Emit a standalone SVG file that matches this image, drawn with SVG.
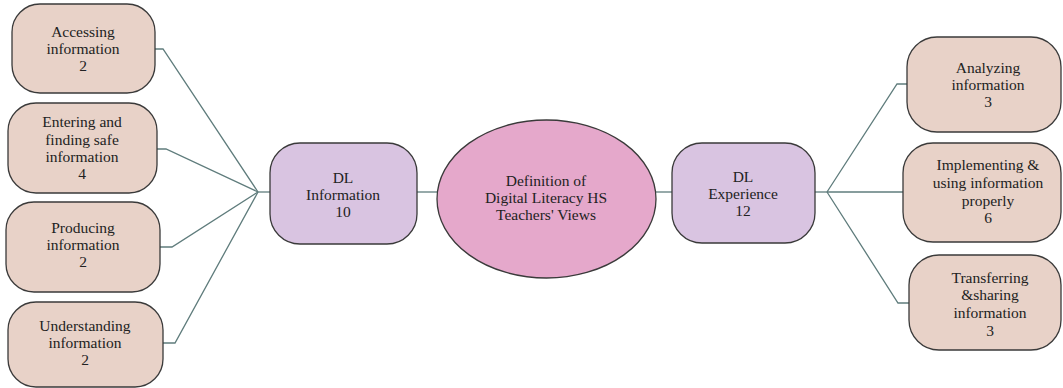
<svg xmlns="http://www.w3.org/2000/svg" width="1063" height="388" viewBox="0 0 1063 388">
<style>
.leaf{fill:#E8D2C8;stroke:#3a3a3a;stroke-width:1.3}
.mid{fill:#D9C4E1;stroke:#3a3a3a;stroke-width:1.3}
.core{fill:#E5A8CB;stroke:#3a3a3a;stroke-width:1.3}
.conn{fill:none;stroke:#5f7c7c;stroke-width:1.3}
.t{font-family:'Liberation Serif','DejaVu Serif',serif;font-size:15.5px;fill:#222;text-anchor:middle}
</style>
<rect width="1063" height="388" fill="#ffffff"/>
<g id="connectors">
<polyline class="conn" points="155,49 163,49 258,192"/>
<polyline class="conn" points="157,149 166,149 258,192"/>
<polyline class="conn" points="160,247 172,247 258,192"/>
<polyline class="conn" points="163,343 175,343 258,192"/>
<polyline class="conn" points="258,192 270,192"/>
<polyline class="conn" points="417,192 437,192"/>
<polyline class="conn" points="656,192 672,192"/>
<polyline class="conn" points="815,192 827,192"/>
<polyline class="conn" points="827,192 897,84 907,84"/>
<polyline class="conn" points="827,192 903,192"/>
<polyline class="conn" points="827,192 898,303 909,303"/>
</g>
<g class="t" font-family="Liberation Serif, serif">
<g id="accessing">
<rect class="leaf" x="12" y="4" width="143" height="89" rx="28" ry="28"/>
<text x="83" y="37">Accessing</text><text x="83" y="54">information</text><text x="83" y="71">2</text>
</g>
<g id="entering">
<rect class="leaf" x="8" y="103" width="149" height="90" rx="28" ry="28"/>
<text x="82" y="127">Entering and</text><text x="82" y="145">finding safe</text><text x="82" y="162">information</text><text x="82" y="179">4</text>
</g>
<g id="producing">
<rect class="leaf" x="6" y="202" width="154" height="90" rx="28" ry="28"/>
<text x="83" y="233">Producing</text><text x="83" y="250">information</text><text x="83" y="267">2</text>
</g>
<g id="understanding">
<rect class="leaf" x="8" y="302" width="155" height="85" rx="28" ry="28"/>
<text x="85" y="331">Understanding</text><text x="85" y="348">information</text><text x="85" y="365">2</text>
</g>
<g id="dl-information">
<rect class="mid" x="270" y="143" width="147" height="101" rx="30" ry="30"/>
<text x="343" y="183">DL</text><text x="343" y="200">Information</text><text x="343" y="217">10</text>
</g>
<g id="definition">
<ellipse class="core" cx="546.5" cy="199" rx="109.5" ry="79"/>
<text x="546" y="186">Definition of</text><text x="546" y="203">Digital Literacy HS</text><text x="546" y="220">Teachers' Views</text>
</g>
<g id="dl-experience">
<rect class="mid" x="672" y="143" width="143" height="100" rx="30" ry="30"/>
<text x="743" y="182">DL</text><text x="743" y="199">Experience</text><text x="743" y="216">12</text>
</g>
<g id="analyzing">
<rect class="leaf" x="907" y="37" width="154" height="95" rx="30" ry="30"/>
<text x="988" y="73">Analyzing</text><text x="988" y="90">information</text><text x="988" y="107">3</text>
</g>
<g id="implementing">
<rect class="leaf" x="903" y="143" width="158" height="99" rx="30" ry="30"/>
<text x="988" y="170">Implementing &amp;</text><text x="988" y="188">using information</text><text x="988" y="206">properly</text><text x="988" y="223">6</text>
</g>
<g id="transferring">
<rect class="leaf" x="909" y="255" width="152" height="95" rx="30" ry="30"/>
<text x="990" y="283">Transferring</text><text x="990" y="300">&amp;sharing</text><text x="990" y="318">information</text><text x="990" y="336">3</text>
</g>
</g>
</svg>
